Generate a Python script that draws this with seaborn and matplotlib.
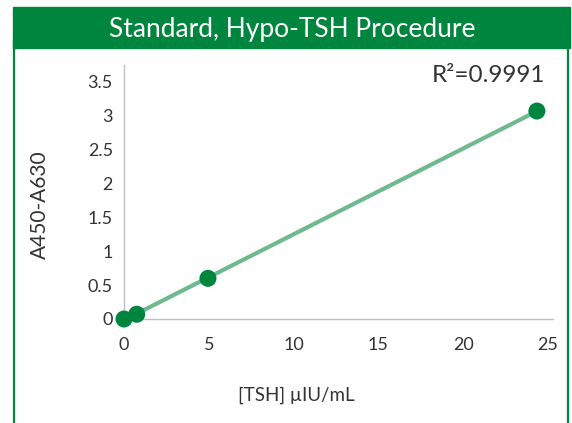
import matplotlib
matplotlib.use("Agg")
import matplotlib.pyplot as plt
import pandas as pd
import seaborn as sns
from matplotlib.patches import Rectangle
from matplotlib.lines import Line2D

# ── Data ──────────────────────────────────────────────────────────────────
tsh_conc = [0.0, 0.75, 4.95, 24.35]
absorbance = [0.0, 0.07, 0.60, 3.07]
x_ticks = [0, 5, 10, 15, 20, 25]
y_ticks = [0, 0.5, 1, 1.5, 2, 2.5, 3, 3.5]
y_tick_labels = ["0", "0.5", "1", "1.5", "2", "2.5", "3", "3.5"]

DARK_GREEN = "#00853F"
LIGHT_GREEN = "#70B98E"
TEXT = "#333333"

df = pd.DataFrame({"tsh": tsh_conc, "abs": absorbance})

sns.set_theme(style="white")
plt.rcParams["font.family"] = ["Lato", "DejaVu Sans"]

fig = plt.figure(figsize=(5.72, 4.23), dpi=100)
ax = fig.add_axes([0.2168, 0.2459, 0.75, 0.6005])

# trendline (linear fit) then the standards on top
sns.regplot(data=df, x="tsh", y="abs", ax=ax, scatter=False, ci=None,
            line_kws={"color": LIGHT_GREEN, "lw": 3, "solid_capstyle": "butt"})
sns.scatterplot(data=df, x="tsh", y="abs", ax=ax, color=DARK_GREEN, s=150,
                edgecolor="none", zorder=5, clip_on=False)

ax.set_xlim(0, 25.3)
ax.set_ylim(0, 3.75)
ax.set_xticks(x_ticks)
ax.set_yticks(y_ticks)
ax.set_yticklabels(y_tick_labels)
ax.tick_params(length=0, labelsize=13, labelcolor=TEXT)
ax.tick_params(axis="x", pad=13)
ax.tick_params(axis="y", pad=8)
for side in ["top", "right"]:
    ax.spines[side].set_visible(False)
for side in ["left", "bottom"]:
    ax.spines[side].set_color("#BFBFBF")
    ax.spines[side].set_linewidth(1)
ax.set_xlabel("")
ax.set_ylabel("")

fig.text(296 / 572, 1 - 395 / 423, "[TSH] µIU/mL", ha="center", va="center",
         fontsize=13.5, color=TEXT)
fig.text(40 / 572, 1 - 205 / 423, "A450-A630", ha="center", va="center",
         rotation=90, fontsize=15, color=TEXT)
fig.text(545 / 572, 1 - 75 / 423, "R²=0.9991", ha="right", va="center",
         fontsize=17.5, color=TEXT)

# green header band and frame
fig.patches.append(Rectangle((13 / 572, 1 - 48 / 423), 557 / 572, 41 / 423,
                             transform=fig.transFigure, color=DARK_GREEN, zorder=0))
fig.lines.append(Line2D([14 / 572, 14 / 572], [0, 1 - 40 / 423],
                        transform=fig.transFigure, color=DARK_GREEN, lw=1.6))
fig.lines.append(Line2D([568 / 572, 568 / 572], [0, 1 - 40 / 423],
                        transform=fig.transFigure, color=DARK_GREEN, lw=1.6))
fig.text(292 / 572, 1 - 29 / 423, "Standard, Hypo-TSH Procedure", ha="center",
         va="center", fontsize=19, color="white")

fig.savefig("out.png", dpi=100)
plt.close(fig)
